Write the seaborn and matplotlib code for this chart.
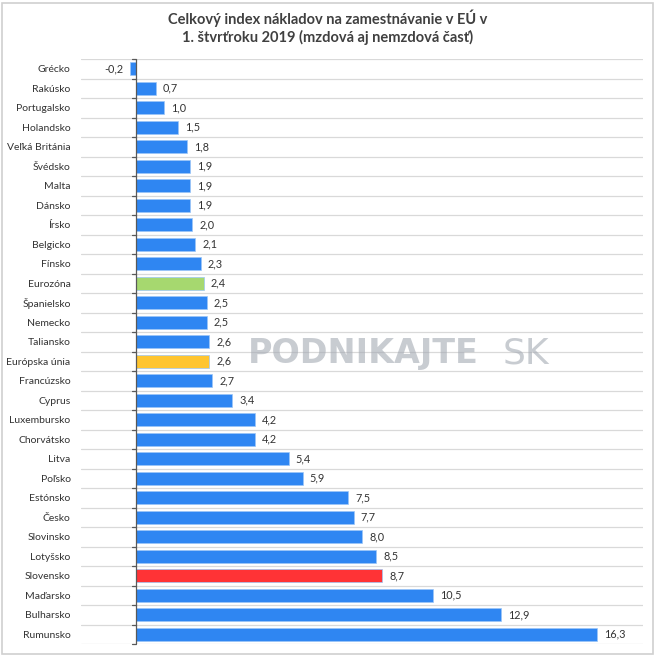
import matplotlib
matplotlib.use("Agg")
import matplotlib.pyplot as plt
import seaborn as sns
import pandas as pd
from matplotlib.patches import Rectangle

countries = ["Grécko", "Rakúsko", "Portugalsko", "Holandsko", "Veľká Británia", "Švédsko",
             "Malta", "Dánsko", "Írsko", "Belgicko", "Fínsko", "Eurozóna", "Španielsko",
             "Nemecko", "Taliansko", "Európska únia", "Francúzsko", "Cyprus", "Luxembursko",
             "Chorvátsko", "Litva", "Poľsko", "Estónsko", "Česko", "Slovinsko", "Lotyšsko",
             "Slovensko", "Maďarsko", "Bulharsko", "Rumunsko"]
values = [-0.2, 0.7, 1.0, 1.5, 1.8, 1.9, 1.9, 1.9, 2.0, 2.1, 2.3, 2.4, 2.5, 2.5, 2.6, 2.6,
          2.7, 3.4, 4.2, 4.2, 5.4, 5.9, 7.5, 7.7, 8.0, 8.5, 8.7, 10.5, 12.9, 16.3]
title = "Celkový index nákladov na zamestnávanie v EÚ v\n1. štvrťroku 2019 (mzdová aj nemzdová časť)"

BLUE = "#2F86F2"
special = {"Eurozóna": "#A6D86F", "Európska únia": "#FFC52F", "Slovensko": "#FF3336"}
palette = {c: special.get(c, BLUE) for c in countries}

df = pd.DataFrame({"country": countries, "value": values})

sns.set_style("white")
plt.rcParams["font.family"] = ["Lato", "DejaVu Sans"]

fig = plt.figure(figsize=(6.56, 6.56), dpi=100)
ax = fig.add_axes([81/656, 1 - 644/656, (643 - 81)/656, (644 - 59)/656])

sns.barplot(data=df, y="country", x="value", hue="country", palette=palette,
            legend=False, orient="h", width=0.66, ax=ax, saturation=1,
            edgecolor="#9CC6F7", linewidth=0.5)

n = len(countries)
ax.set_xlim(-1.94, 17.93)
ax.set_ylim(n - 0.5, -0.5)

# horizontal gridlines at category boundaries
for b in range(n + 1):
    ax.axhline(b - 0.5, color="#D9D9D9", linewidth=0.9, zorder=0)

# vertical axis line at 0 with small ticks
ax.axvline(0, color="#595959", linewidth=0.9, zorder=3)
for b in range(n + 1):
    ax.plot([-0.12, 0], [b - 0.5, b - 0.5], color="#595959", linewidth=0.9, zorder=3,
            clip_on=False)

# value labels
for i, v in enumerate(values):
    lab = f"{v:.1f}".replace(".", ",")
    if v >= 0:
        ax.text(v + 0.25, i, lab, va="center", ha="left", fontsize=7.8, color="#333333")
    else:
        ax.text(v - 0.25, i, lab, va="center", ha="right", fontsize=7.8, color="#333333")

ax.set_xticks([])
ax.set_xlabel("")
ax.set_ylabel("")
ax.tick_params(axis="y", length=0, pad=7.5, labelsize=7.5, labelcolor="#333333")
for s in ax.spines.values():
    s.set_visible(False)

fig.text(0.5, 1 - 18/656, title.split("\n")[0], ha="center", va="center", fontsize=10.5,
         fontweight="bold", color="#404040")
fig.text(0.5, 1 - 37/656, title.split("\n")[1], ha="center", va="center", fontsize=10.5,
         fontweight="bold", color="#404040")

# watermark
fig.text(248/656, 1 - 353/656, "PODNIKAJTE", ha="left", va="center", fontsize=24,
         fontweight="bold", family="DejaVu Sans", color="#A4AAB3", alpha=0.6, zorder=10)
fig.text(503/656, 1 - 353/656, "SK", ha="left", va="center", fontsize=26,
         fontweight="normal", family="DejaVu Sans", color="#A4AAB3", alpha=0.6, zorder=10)

# outer frame
fig.patches.append(Rectangle((2/656, 2/656), 651/656, 651/656, transform=fig.transFigure,
                             fill=False, edgecolor="#D0D0D0", linewidth=1.2))

fig.savefig("out.png", dpi=100)
